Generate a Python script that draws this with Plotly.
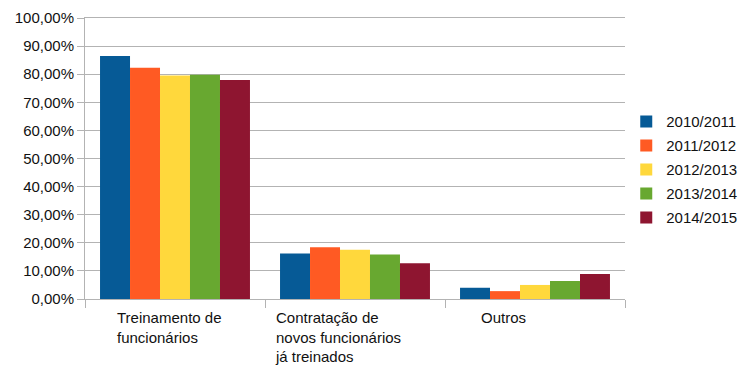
import plotly.graph_objects as go

categories = ["Treinamento de<br>funcionários",
              "Contratação de<br>novos funcionários<br>já treinados",
              "Outros"]
cat_keys = ["Treinamento", "Contratação", "Outros"]
series_names = ["2010/2011", "2011/2012", "2012/2013", "2013/2014", "2014/2015"]
v2010 = [0.865, 0.162, 0.040]
v2011 = [0.823, 0.184, 0.028]
v2012 = [0.795, 0.175, 0.050]
v2013 = [0.798, 0.158, 0.064]
v2014 = [0.779, 0.127, 0.089]
values = [v2010, v2011, v2012, v2013, v2014]

colors = ["#065a96", "#ff5a23", "#ffd83c", "#68a830", "#8e1530"]
label_shift = [-60, -82, -56]

fig = go.Figure()
for name, vals, c in zip(series_names, values, colors):
    fig.add_trace(go.Bar(x=cat_keys, y=vals, name=name, legendgroup=name,
                         marker=dict(color=c, line=dict(width=0))))

for key, text, sh in zip(cat_keys, categories, label_shift):
    fig.add_annotation(x=key, xref="x", y=0, yref="paper", yanchor="top", xanchor="left",
                       xshift=sh, yshift=-8, text=text, align="left", showarrow=False,
                       font=dict(family="Liberation Sans, Arial, sans-serif", size=15, color="#111"))

fig.update_layout(
    width=750, height=375,
    margin=dict(l=85, r=125, t=18, b=76, autoexpand=False),
    paper_bgcolor="white", plot_bgcolor="white",
    separators=",.",
    barmode="group", bargap=0.167, bargroupgap=0,
    font=dict(family="Liberation Sans, Arial, sans-serif", size=15, color="#111"),
    showlegend=True,
    legend=dict(xref="container", x=0.835, xanchor="left", y=0.46, yanchor="middle",
                font=dict(size=15), itemwidth=30, tracegroupgap=1.5,
                traceorder="grouped", bgcolor="rgba(0,0,0,0)"),
)
fig.update_xaxes(showticklabels=False, tickson="boundaries", ticks="outside", ticklen=8,
                 tickcolor="#b3b3b3", showline=True, mirror=True, linecolor="#b3b3b3",
                 linewidth=1, showgrid=False)
fig.update_yaxes(range=[0, 1], dtick=0.1, tickformat=".2%", ticks="outside", ticklen=7,
                 tickcolor="#b3b3b3", showgrid=True, gridcolor="#b3b3b3", gridwidth=1,
                 showline=True, linecolor="#b3b3b3", linewidth=1, zeroline=False,
                 tickfont=dict(size=15), automargin=False)

fig.write_html("out.html", config={"displayModeBar": False},
               post_script="document.body.style.margin='0';")
